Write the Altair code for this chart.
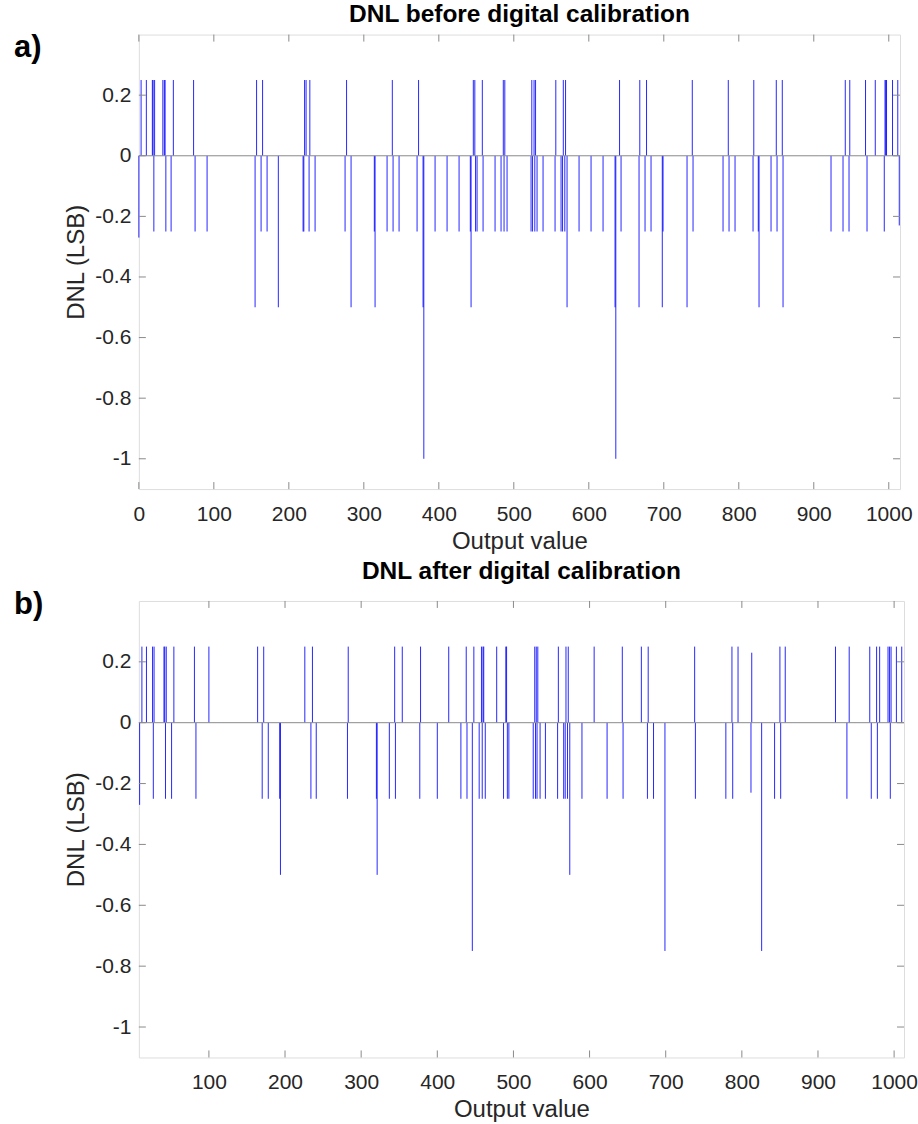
import altair as alt
import pandas as pd

# ---------------- data ----------------
# Panel a: DNL before digital calibration
a_up_x = [3, 10, 18, 19, 21, 32, 34, 35, 46, 73, 157, 165, 221, 223, 228, 277, 338, 373,
          446, 448, 458, 486, 488, 524, 527, 529, 556, 566, 569, 641, 668, 677, 738, 786,
          820, 850, 858, 942, 948, 969, 982, 995, 996, 997, 1005, 1012]
a_q_x = [20, 36, 43, 75, 91, 163, 171, 219, 220, 227, 235, 275, 314, 331, 339, 347, 371,
         395, 411, 427, 442, 449, 451, 459, 475, 483, 487, 491, 523, 525, 528, 531, 539,
         555, 563, 565, 568, 587, 603, 619, 643, 675, 683, 699, 739, 779, 787, 795, 819,
         826, 843, 851, 923, 939, 947, 971, 994]
a_h_x = [155, 186, 283, 315, 379, 443, 571, 635, 667, 698, 731, 827, 859]
a_one_x = [380, 636]
a_other_x = [0, 1014]
a_other_v = [-0.27, -0.23]

# Panel b: DNL after digital calibration
b_up_x = [12, 18, 26, 28, 41, 42, 44, 54, 81, 100, 164, 172, 226, 236, 283, 344, 354, 378,
          415, 438, 448, 458, 460, 461, 478, 490, 491, 528, 530, 532, 559, 569, 572, 606,
          643, 668, 677, 738, 787, 795, 850, 857, 923, 941, 968, 977, 981, 992, 994, 996,
          1003, 1010]
b_q_x = [27, 43, 51, 83, 170, 178, 193, 234, 241, 282, 320, 337, 345, 377, 400, 431, 439,
         455, 459, 463, 487, 492, 494, 526, 529, 531, 535, 542, 558, 566, 568, 571, 590,
         623, 644, 676, 684, 739, 779, 788, 843, 851, 938, 970, 978, 995]
b_h_x = [194, 321, 574]
b_tq_x = [446, 699, 826]
b_other_x = [9, 812, 813]
b_other_v = [-0.27, -0.23, 0.23]

a_xticks = [0, 100, 200, 300, 400, 500, 600, 700, 800, 900, 1000]
b_xticks = [100, 200, 300, 400, 500, 600, 700, 800, 900, 1000]
yticks = [-1, -0.8, -0.6, -0.4, -0.2, 0, 0.2]

FONT = "Liberation Sans"
BLUE = "#0000ff"
GREY = "#8a8a8a"
TXT = "#262626"


def build(groups):
    rows = []
    for xs, v in groups:
        for x in xs:
            rows.append({"x": x, "v": v})
    return pd.DataFrame(rows)


def with_other(xs, vs):
    return pd.DataFrame({"x": xs, "v": vs})


a_df = pd.concat([build([(a_up_x, 0.25), (a_q_x, -0.25), (a_h_x, -0.5), (a_one_x, -1.0)]),
                  with_other(a_other_x, a_other_v)], ignore_index=True)
b_df = pd.concat([build([(b_up_x, 0.25), (b_q_x, -0.25), (b_h_x, -0.5), (b_tq_x, -0.75)]),
                  with_other(b_other_x, b_other_v)], ignore_index=True)


def panel(df, title, tag, tag_y, xdom, xticks, w, h, xtitle_pad):
    xs = alt.Scale(domain=xdom, nice=False, zero=False)
    ys = alt.Scale(domain=[-1.1, 0.4], nice=False, zero=False)
    xaxis = alt.Axis(values=xticks, title="Output value", grid=False, ticks=False,
                     domain=False, labelFontSize=21, labelFont=FONT, labelColor=TXT,
                     labelPadding=14, titleFontSize=24, titleFont=FONT, titleColor=TXT,
                     titleFontWeight="normal", titlePadding=xtitle_pad, labelFlush=False,
                     labelExpr="'' + datum.value")
    yaxis = alt.Axis(values=yticks, title="DNL (LSB)", grid=False, ticks=False,
                     domain=False, labelFontSize=21, labelFont=FONT, labelColor=TXT,
                     labelPadding=8, titleFontSize=24, titleFont=FONT, titleColor=TXT,
                     titleFontWeight="normal", titlePadding=6, labelFlush=False,
                     labelExpr="'' + datum.value")

    stems = alt.Chart(df).mark_rule(color=BLUE, strokeWidth=1, opacity=0.85).encode(
        x=alt.X("x:Q", scale=xs, axis=xaxis),
        y=alt.Y("v:Q", scale=ys, axis=yaxis),
        y2=alt.datum(0),
    )
    base = alt.Chart(pd.DataFrame({"z": [0]})).mark_rule(color=GREY, strokeWidth=1).encode(
        y=alt.Y("z:Q", scale=ys)
    )
    xt = pd.DataFrame({"t": xticks})
    yt = pd.DataFrame({"t": yticks})
    tick_top = alt.Chart(xt).mark_rule(color=GREY, strokeWidth=1).encode(
        x=alt.X("t:Q", scale=xs), y=alt.value(0), y2=alt.value(7))
    tick_bot = alt.Chart(xt).mark_rule(color=GREY, strokeWidth=1).encode(
        x=alt.X("t:Q", scale=xs), y=alt.value(h), y2=alt.value(h - 7))
    tick_l = alt.Chart(yt).mark_rule(color=GREY, strokeWidth=1).encode(
        y=alt.Y("t:Q", scale=ys), x=alt.value(0), x2=alt.value(7))
    tick_r = alt.Chart(yt).mark_rule(color=GREY, strokeWidth=1).encode(
        y=alt.Y("t:Q", scale=ys), x=alt.value(w - 7), x2=alt.value(w))
    label = alt.Chart(pd.DataFrame({"s": [tag]})).mark_text(
        font=FONT, fontSize=31, fontWeight="bold", align="left", baseline="middle",
        color="black").encode(text="s:N", x=alt.value(-125), y=alt.value(tag_y))

    return alt.layer(stems, base, tick_top, tick_bot, tick_l, tick_r, label).properties(
        width=w, height=h,
        title=alt.TitleParams(title, fontSize=24.5, font=FONT, fontWeight="bold",
                              color="black", offset=4),
    )


pa = panel(a_df, "DNL before digital calibration", "a)", 13, [0, 1015], a_xticks, 762, 455, 5)
pb = panel(b_df, "DNL after digital calibration", "b)", 4, [8, 1013], b_xticks, 766, 457, 5)

chart = alt.vconcat(pa, pb, spacing=5).properties(
    padding={"left": 13, "top": 1, "right": 0, "bottom": 0}
).configure_view(stroke=GREY, strokeWidth=1).configure(background="white")

chart.save("out.html", embed_options={"renderer": "svg", "actions": False})
